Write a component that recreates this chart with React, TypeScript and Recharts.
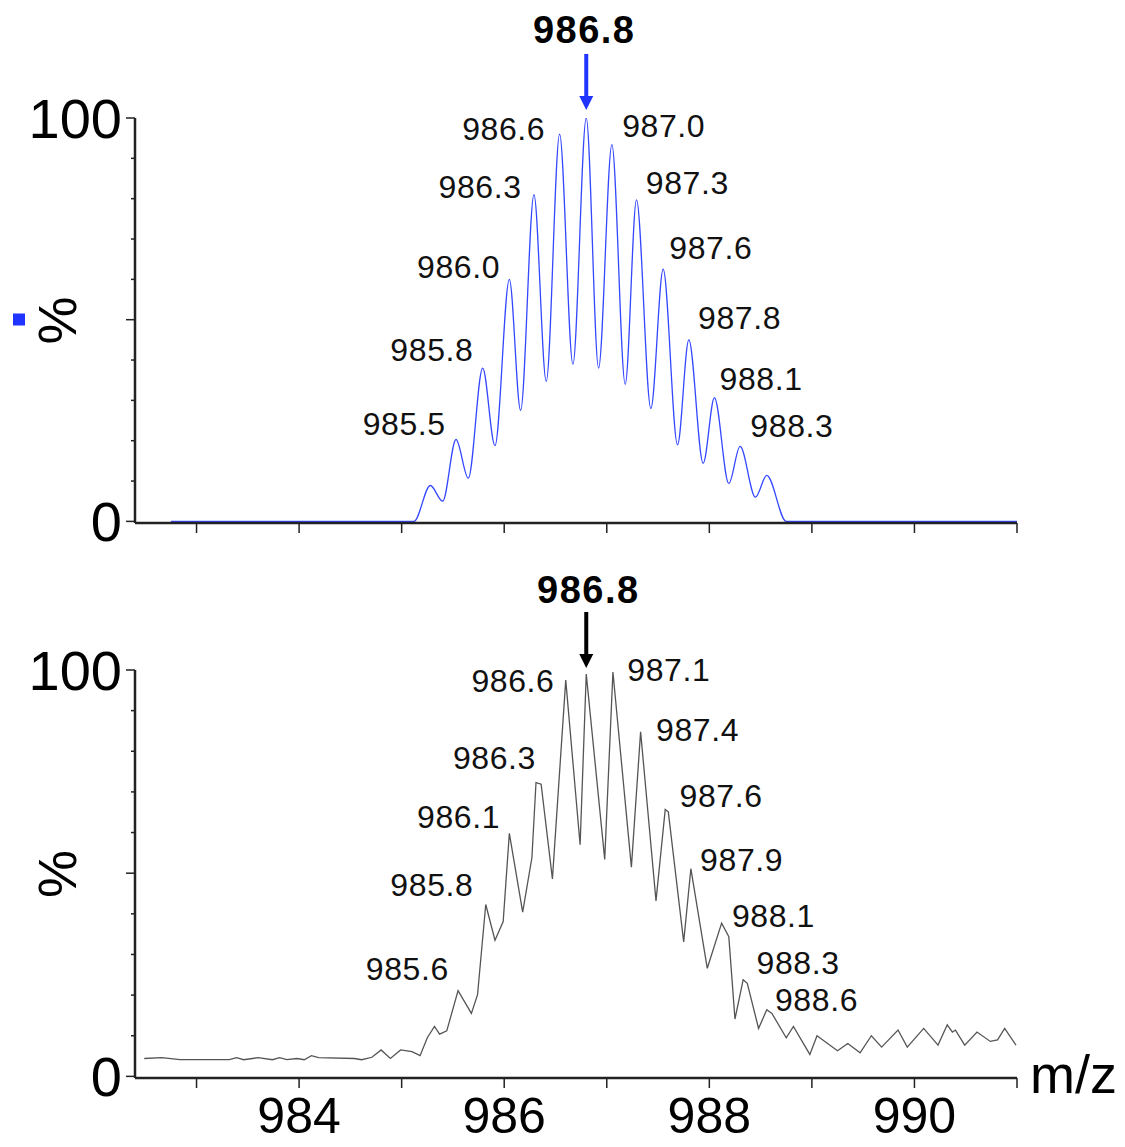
import { LineChart, Line, XAxis, YAxis, ReferenceDot } from "recharts";

const FONT = "'Liberation Sans', Arial, Helvetica, sans-serif";

const mzTicks = [983, 984, 985, 986, 987, 988, 989, 990, 991];
const labelledMz = [984, 986, 988, 990];
const pctTicks = [0, 10, 20, 30, 40, 50, 60, 70, 80, 90, 100];

// theoretical isotope pattern (top trace): [m/z, %]
const theoPoints: [number, number][] = [
  [982.75, 0], [985.12, 0], [985.28, 8.9], [985.4, 5], [985.53, 20.3],
  [985.65, 10.7], [985.79, 38], [985.91, 18.8], [986.05, 60], [986.16, 27.5],
  [986.29, 81], [986.41, 34.7], [986.54, 96], [986.67, 39], [986.8, 100],
  [986.92, 38], [987.05, 93.4], [987.18, 34], [987.29, 79.7], [987.43, 28],
  [987.55, 62.5], [987.69, 19], [987.8, 45], [987.94, 14.4], [988.05, 30.7],
  [988.19, 9.4], [988.3, 18.6], [988.45, 6], [988.56, 11.4], [988.75, 0],
  [991.0, 0],
];

// measured spectrum (bottom trace): [m/z, %]
const obsPoints: [number, number][] = [
  [982.49, 4.4], [982.66, 4.6], [982.84, 4.1], [983.05, 4.1], [983.32, 4.1],
  [983.39, 4.6], [983.46, 4.1], [983.6, 4.6], [983.74, 4.1], [983.81, 4.6],
  [983.88, 4.1], [983.98, 4.4], [984.05, 4.1], [984.12, 5.1], [984.19, 4.6],
  [984.54, 4.4], [984.61, 4.1], [984.71, 4.7], [984.8, 6.5], [984.89, 4.4],
  [984.99, 6.5], [985.1, 6.1], [985.18, 5.1], [985.25, 9.5], [985.32, 12.3],
  [985.37, 10.4], [985.44, 11.2], [985.55, 21.1], [985.68, 15.5], [985.74, 20.1],
  [985.82, 42.3], [985.91, 33.5], [985.99, 38.1], [986.05, 59.8], [986.18, 40.4],
  [986.27, 53.8], [986.31, 72.3], [986.36, 71.9], [986.47, 48.6], [986.6, 97.5],
  [986.74, 57], [986.8, 99], [986.98, 53.4], [987.06, 99.5], [987.24, 51.5],
  [987.33, 84.8], [987.48, 43.2], [987.57, 65.7], [987.6, 65.1], [987.75, 33.1],
  [987.82, 51.1], [987.98, 26.6], [988.12, 37.7], [988.19, 34.4], [988.25, 14.1],
  [988.33, 23.8], [988.37, 22.9], [988.48, 11.8], [988.56, 16.4], [988.61, 15.5],
  [988.75, 9.5], [988.82, 12.3], [988.98, 5.4], [989.05, 10.0], [989.25, 6.3],
  [989.35, 8.1], [989.47, 5.8], [989.58, 10.0], [989.68, 7.2], [989.84, 11.4],
  [989.93, 7.2], [990.09, 11.8], [990.23, 7.7], [990.32, 12.7], [990.37, 10.9],
  [990.4, 11.4], [990.49, 7.7], [990.61, 10.9], [990.74, 8.6], [990.81, 9.0],
  [990.88, 11.8], [990.99, 7.7],
];

// peak annotations: [text, m/z, %]
const theoLabels: [string, number, number][] = [
  ["985.5", 985.43, 24.2], ["985.8", 985.7, 42.5], ["986.0", 985.96, 63.0],
  ["986.3", 986.17, 83.0], ["986.6", 986.4, 97.2], ["987.0", 987.15, 98.0],
  ["987.3", 987.38, 84.0], ["987.6", 987.61, 67.7], ["987.8", 987.89, 50.4],
  ["988.1", 988.1, 35.3], ["988.3", 988.4, 23.7],
];
const obsLabels: [string, number, number][] = [
  ["985.6", 985.46, 26.5], ["985.8", 985.7, 47.2], ["986.1", 985.96, 63.8],
  ["986.3", 986.31, 78.3], ["986.6", 986.49, 97.3], ["987.1", 987.2, 100.0],
  ["987.4", 987.48, 85.3], ["987.6", 987.71, 69.1], ["987.9", 987.91, 53.3],
  ["988.1", 988.22, 39.5], ["988.3", 988.46, 27.9], ["988.6", 988.64, 18.9],
];

// main peak callout: [text, m/z, text %, arrow tip %]
const theoApex: [string, number, number, number] = ["986.8", 986.78, 121.7, 102];
const obsApex: [string, number, number, number] = ["986.8", 986.82, 119.6, 100.5];

const toRows = (pts: [number, number][]) => pts.map(([mz, pct]) => ({ mz, pct }));

const YTick = (props: any) => {
  const { x, y, payload } = props;
  const v = payload.value;
  const len = v % 50 === 0 ? 9 : 4;
  return (
    <g>
      <line x1={x - len} x2={x} y1={y} y2={y} stroke="#222" strokeWidth={1.5} />
      {(v === 0 || v === 100) && (
        <text x={x - 13} y={y} textAnchor="end" dominantBaseline="central"
          fontSize={56} fontFamily={FONT} fill="#000">
          {v}
        </text>
      )}
    </g>
  );
};

const PctLabel = ({ viewBox, marker }: any) => {
  const cx = viewBox.x + 57;
  const cy = viewBox.y + viewBox.height / 2;
  return (
    <g>
      {marker && <rect x={viewBox.x + 13} y={cy - 7} width={12} height={12} fill={marker} />}
      <text x={cx} y={cy} transform={`rotate(-90 ${cx} ${cy})`} textAnchor="middle"
        dominantBaseline="central" fontSize={54} fontFamily={FONT} fill="#000">
        %
      </text>
    </g>
  );
};

function Spectrum({
  top, height, plotTop, axisH, points, stroke, strokeWidth, curve,
  labels, apex, arrowColor, marker, showMz,
}: any) {
  const rows = toRows(points);
  return (
    <div style={{ position: "absolute", left: 0, top, width: 1125, height }}>
      <LineChart width={1125} height={height} data={rows}
        margin={{ top: plotTop, right: 108, bottom: 0, left: 0 }}>
        <XAxis dataKey="mz" type="number" domain={[982.4, 991]} ticks={mzTicks}
          allowDataOverflow height={axisH} interval={0}
          axisLine={{ stroke: "#222", strokeWidth: 2.5 }}
          tickLine={{ stroke: "#222", strokeWidth: 1.5 }} tickSize={10} tickMargin={9}
          tick={{ fontSize: 50, fill: "#000", fontFamily: FONT }}
          tickFormatter={(v) => (showMz && labelledMz.includes(v) ? String(v) : "")} />
        <YAxis type="number" domain={[-0.4, 100]} ticks={pctTicks} interval={0}
          allowDataOverflow
          width={135} tickSize={0} tickMargin={0} tickLine={false}
          axisLine={{ stroke: "#222", strokeWidth: 2.5 }} tick={<YTick />}
          label={{ content: (p: any) => <PctLabel viewBox={p.viewBox} marker={marker} /> }} />
        <Line dataKey="pct" type={curve} stroke={stroke} strokeWidth={strokeWidth}
          dot={false} isAnimationActive={false} />
        {labels.map(([text, mz, pct]: [string, number, number]) => (
          <ReferenceDot key={text} x={mz} y={pct} ifOverflow="visible"
            shape={(p: any) => (
              <text x={p.cx} y={p.cy} dominantBaseline="central"
                textAnchor={parseFloat(text) < 986.8 ? "end" : "start"}
                fontSize={32} letterSpacing={0.6} fontFamily={FONT} fill="#111">
                {text}
              </text>
            )} />
        ))}
        <ReferenceDot x={apex[1]} y={apex[2]} ifOverflow="visible"
          shape={(p: any) => (
            <text x={p.cx} y={p.cy} textAnchor="middle" dominantBaseline="central"
              fontSize={38} fontWeight="bold" letterSpacing={1.5} fontFamily={FONT} fill="#000">
              {apex[0]}
            </text>
          )} />
        <ReferenceDot x={986.8} y={apex[3]} ifOverflow="visible"
          shape={(p: any) => (
            <g fill={arrowColor}>
              <rect x={p.cx - 2} y={p.cy - 56} width={4} height={44} />
              <polygon points={`${p.cx - 7},${p.cy - 14} ${p.cx + 7},${p.cy - 14} ${p.cx},${p.cy}`} />
            </g>
          )} />
        {showMz && (
          <ReferenceDot x={991} y={0} ifOverflow="visible"
            shape={(p: any) => (
              <text x={p.cx + 13} y={p.cy + 17} fontSize={54} fontFamily={FONT} fill="#000">
                m/z
              </text>
            )} />
        )}
      </LineChart>
    </div>
  );
}

export default function App() {
  return (
    <div style={{ position: "absolute", left: 0, top: 0, width: 1125, height: 1147, background: "#fff" }}>
      <Spectrum top={0} height={560} plotTop={118} axisH={37} points={theoPoints}
        stroke="#3448ff" strokeWidth={1.3} curve="monotone" labels={theoLabels}
        apex={theoApex} arrowColor="#1f35ff" marker="#1f35ff" showMz={false} />
      <Spectrum top={560} height={587} plotTop={110} axisH={69} points={obsPoints}
        stroke="#555" strokeWidth={1.3} curve="linear" labels={obsLabels}
        apex={obsApex} arrowColor="#000" marker={null} showMz />
    </div>
  );
}
